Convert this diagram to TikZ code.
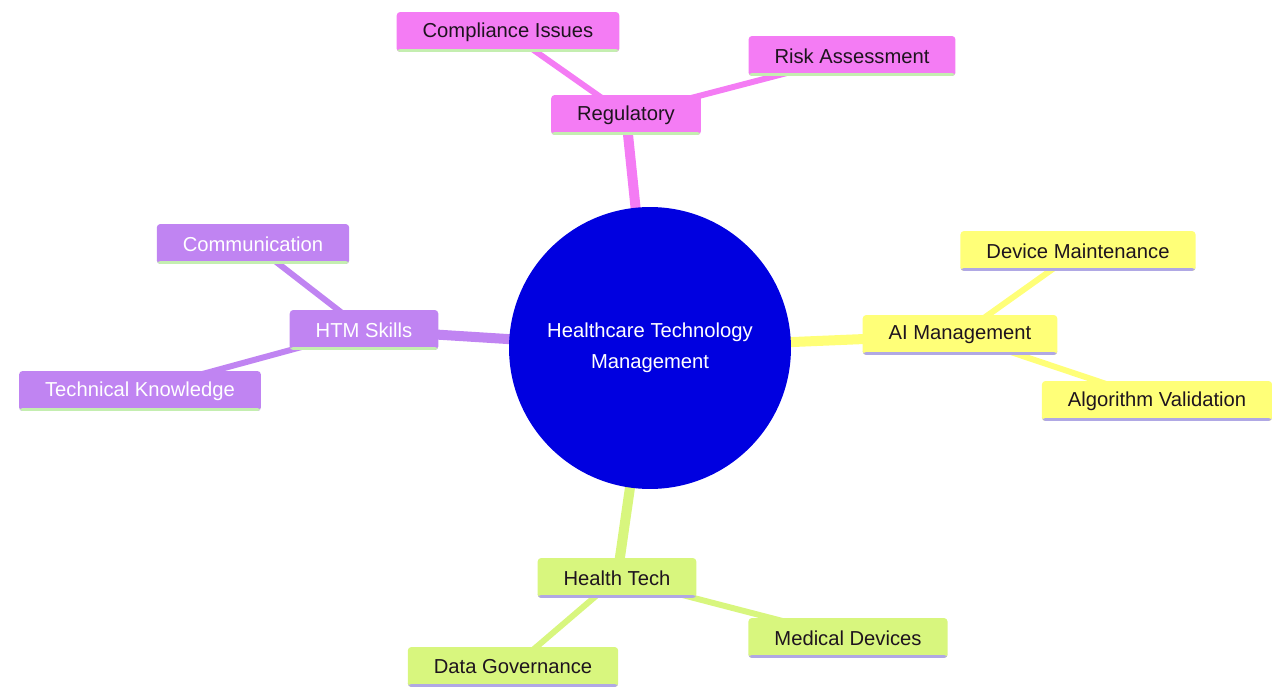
\documentclass[tikz,border=0pt]{standalone}
\usepackage{fontspec}
\setmainfont{Liberation Sans}
\usetikzlibrary{backgrounds}
\definecolor{regpink}{HTML}{F47CF4}
\definecolor{htmpurple}{HTML}{C084F2}
\definecolor{aiyellow}{HTML}{FFFF78}
\definecolor{techgreen}{HTML}{D8F67E}
\definecolor{hubblue}{HTML}{0000E0}
\definecolor{stripegreen}{HTML}{C4EEB0}
\definecolor{stripelav}{HTML}{B0A8E4}
\definecolor{darktext}{HTML}{1E141E}
\begin{document}
\begin{tikzpicture}[x=0.02cm,y=-0.02cm,line cap=round,line join=round,
  font=\fontsize{11.5}{13.6}\selectfont,
  box/.style 2 args={fill=#1,rounded corners=2pt,minimum height=0.8cm,inner xsep=0.52cm,inner ysep=0pt,text=darktext,
    path picture={\fill[#2] ([yshift=1.7pt]path picture bounding box.south west) rectangle (path picture bounding box.south east);}},
  hub/.style={circle,fill=hubblue,text=white,minimum size=5.64cm,inner sep=0pt,align=center,
    font=\fontsize{11.5}{17.5}\selectfont},
  trunk/.style={line width=5.7pt},
  twig/.style={line width=3.4pt}]
\useasboundingbox (0,0) rectangle (1272,689);
% hub
\node[hub] (hub) at (650,348) {Healthcare Technology\\Management};
% regulatory
\node[box={regpink}{stripegreen}] (reg) at (626,115) {Regulatory};
\node[box={regpink}{stripegreen}] (comp) at (508,32) {Compliance Issues};
\node[box={regpink}{stripegreen}] (risk) at (852,56) {Risk Assessment};
% htm skills
\node[box={htmpurple}{stripegreen},text=white] (htm) at (364,330) {HTM Skills};
\node[box={htmpurple}{stripegreen},text=white] (comm) at (253,244) {Communication};
\node[box={htmpurple}{stripegreen},text=white] (tech) at (140,391) {Technical Knowledge};
% ai
\node[box={aiyellow}{stripelav}] (ai) at (960,335) {AI Management};
\node[box={aiyellow}{stripelav}] (dev) at (1078,251) {Device Maintenance};
\node[box={aiyellow}{stripelav}] (algo) at (1157,401) {Algorithm Validation};
% health tech
\node[box={techgreen}{stripelav}] (ht) at (617,578) {Health Tech};
\node[box={techgreen}{stripelav}] (med) at (848,638) {Medical Devices};
\node[box={techgreen}{stripelav}] (data) at (513,667) {Data Governance};
\begin{scope}[on background layer]
\draw[trunk,regpink] (hub.center)--(reg.center);
\draw[trunk,htmpurple] (hub.center)--(htm.center);
\draw[trunk,aiyellow] (hub.center)--(ai.center);
\draw[trunk,techgreen] (hub.center)--(ht.center);
\foreach\a/\b/\c in {reg/comp/regpink, reg/risk/regpink, htm/comm/htmpurple, htm/tech/htmpurple,
  ai/dev/aiyellow, ai/algo/aiyellow, ht/med/techgreen, ht/data/techgreen}
\draw[twig,\c] (\a.center)--(\b.center);
\end{scope}
\end{tikzpicture}
\end{document}
